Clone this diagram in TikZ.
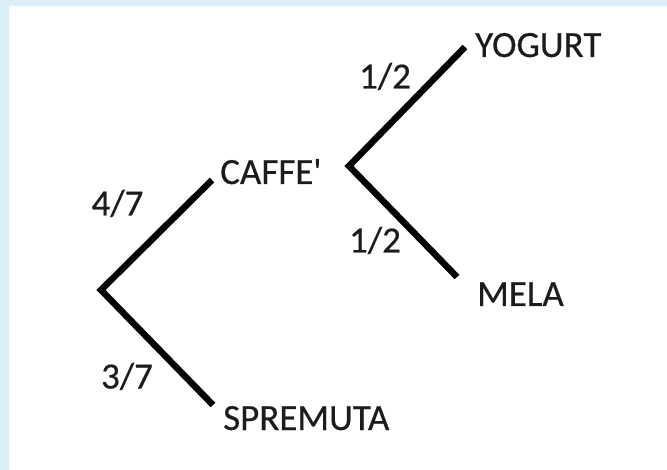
\documentclass[tikz,border=0pt]{standalone}
\usepackage{fontspec}
\setmainfont{Carlito}[Ligatures=TeXOff, FakeBold=0.4]
\definecolor{frameblue}{HTML}{DBEDF7}
\definecolor{ink}{HTML}{1C1C1C}
\tikzset{
  branch/.style={line width=6.5pt, line join=miter, line cap=butt, black},
  outcome/.style={anchor=base west, inner sep=0pt, text=ink, font=\fontsize{37}{42}\selectfont},
  prob/.style={anchor=base, inner sep=0pt, text=ink, font=\fontsize{37}{42}\selectfont}
}
\begin{document}
\begin{tikzpicture}[x=1pt,y=-1pt]
  % page and light blue frame on the left and top edges
  \useasboundingbox (0,0) rectangle (667,470);
  \fill[frameblue] (0,0) rectangle (667,470);
  \fill[white] (9,6) rectangle (667,470);

  % branch points and leaf ends
  \coordinate (root) at (101,290);
  \coordinate (caffeEnd) at (212,180);
  \coordinate (spremutaEnd) at (213,405);
  \coordinate (fork) at (349,166);
  \coordinate (yogurtEnd) at (465,47);
  \coordinate (melaEnd) at (457,277);

  % outcome labels
  \node[outcome] (caffe) at (220,184) {CAFFE'};
  \node[outcome] (spremuta) at (223,430) {SPREMUTA};
  \node[outcome] (yogurt) at (475,57) {YOGURT};
  \node[outcome] (mela) at (477,306) {MELA};

  % probabilities
  \node[prob] (p47) at (117.5,215.5) {4/7};
  \node[prob] (p37) at (127,388.5) {3/7};
  \node[prob] (p12a) at (385,88.5) {1/2};
  \node[prob] (p12b) at (375,252.5) {1/2};

  % tree branches
  \draw[branch] (caffeEnd) -- (root) -- (spremutaEnd);
  \draw[branch] (yogurtEnd) -- (fork) -- (melaEnd);
\end{tikzpicture}
\end{document}
